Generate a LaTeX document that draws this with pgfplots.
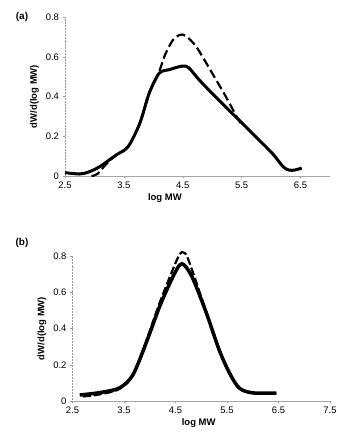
\documentclass[border=0pt]{standalone}
\usepackage{pgfplots}
\pgfplotsset{compat=1.18}
\usepackage{fontspec}
\setmainfont{Liberation Sans}
\begin{document}
\begin{tikzpicture}
\useasboundingbox (0,0) rectangle (338bp,441bp);
\pgfplotsset{
  common/.style={
    scale only axis,
    anchor=south west,
    axis x line=bottom, axis y line=left,
    axis line style={-, gray!70, line width=0.5pt},
    x axis line style={-},
    y axis line style={-, densely dotted, gray!80},
    tick style={gray!80, line width=0.4pt},
    tick align=outside, major tick length=2.5pt,
    ymin=0, ymax=0.8,
    ytick={0,0.2,...,0.8},
    yticklabels={0,0.2,0.4,0.6,0.8},
    tick label style={font=\fontsize{9.5}{11}\selectfont},
    /pgf/number format/assume math mode=true,
    xlabel={\bfseries log MW}, ylabel={\bfseries dW/d(log MW)},
    label style={font=\fontsize{9.5}{11}\selectfont},
    xlabel style={yshift=2bp},
    clip=false,
  }
}
% (a)
\begin{axis}[common, at={(65bp,265bp)}, width=265bp, height=159bp,
  xmin=2.5, xmax=7.0, xtick={2.5,3.5,4.5,5.5,6.5},
  xticklabels={2.5,3.5,4.5,5.5,6.5},
  xlabel style={at={(ticklabel cs:0.377)}, anchor=north}]
\addplot[black, line width=2.2bp, dash pattern=on 9bp off 4bp, smooth, tension=0.5] coordinates {
(2.95,0.0) (3.05,0.01) (3.2,0.06) (3.37,0.106) (3.57,0.147) (3.77,0.265) (3.93,0.417) (4.08,0.51) (4.2,0.61) (4.33,0.683) (4.45,0.71) (4.55,0.705) (4.73,0.65) (5.0,0.517) (5.23,0.40) (5.43,0.29) (5.5,0.26)
};
\addplot[black, line width=3bp, smooth, tension=0.5] coordinates {
(2.5,0.017) (2.75,0.01) (2.9,0.02) (3.09,0.047) (3.37,0.106) (3.57,0.147) (3.77,0.265) (3.93,0.417) (4.10,0.517) (4.27,0.535) (4.49,0.553) (4.6,0.545) (4.78,0.483) (5.05,0.4) (5.34,0.315) (5.68,0.215) (6.02,0.114) (6.2,0.048) (6.3,0.03) (6.4,0.03) (6.52,0.04)
};
\end{axis}
\node[font=\bfseries\fontsize{10}{12}\selectfont] at (22bp,424bp) {(a)};
% (b)
\begin{axis}[common, at={(72.5bp,40bp)}, width=257.5bp, height=145bp,
  xmin=2.5, xmax=7.5, xtick={2.5,3.5,4.5,5.5,6.5,7.5},
  xticklabels={2.5,3.5,4.5,5.5,6.5,7.5},
  xlabel style={at={(ticklabel cs:0.49)}, anchor=north}]
\addplot[black, line width=2.2bp, dash pattern=on 8bp off 3bp, smooth, tension=0.5] coordinates {
(2.7,0.025) (3.0,0.035) (3.4,0.065) (3.67,0.14) (3.93,0.33) (4.19,0.54) (4.44,0.72) (4.58,0.81) (4.65,0.82) (4.72,0.80) (4.85,0.70) (5.1,0.49) (5.35,0.285) (5.55,0.15) (5.74,0.07) (6.0,0.043) (6.46,0.042)
};
\addplot[black, line width=3.5bp, smooth, tension=0.5] coordinates {
(2.64,0.033) (3.02,0.046) (3.41,0.072) (3.67,0.143) (3.93,0.32) (4.19,0.52) (4.44,0.68) (4.58,0.75) (4.67,0.75) (4.83,0.68) (5.1,0.485) (5.35,0.28) (5.55,0.154) (5.74,0.071) (6.0,0.045) (6.46,0.044)
};
\end{axis}
\node[font=\bfseries\fontsize{10}{12}\selectfont] at (22bp,198bp) {(b)};
\end{tikzpicture}
\end{document}
